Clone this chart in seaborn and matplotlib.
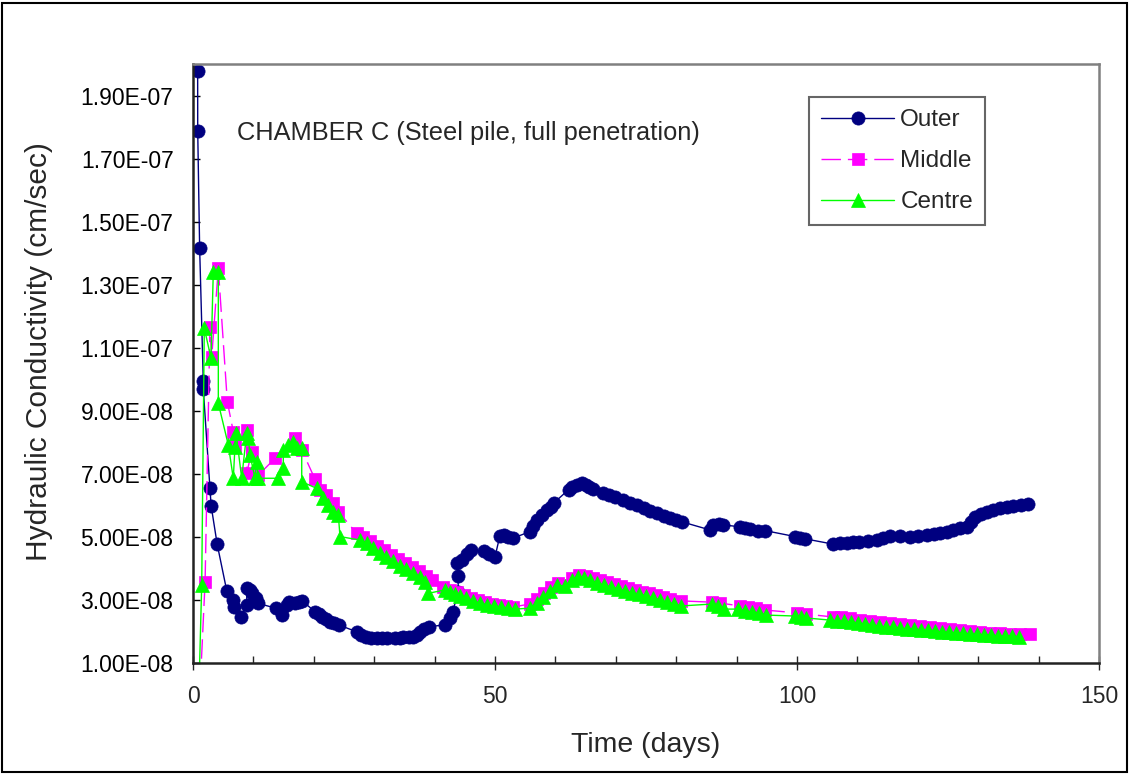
import matplotlib
matplotlib.use('Agg')
import matplotlib.pyplot as plt
import matplotlib.ticker as mticker
from matplotlib.patches import Rectangle
import pandas as pd
import seaborn as sns

# Values, conductivity in units of 1E-08 cm/sec
outer_days = [0.75, 0.78, 0.78, 1.1, 1.7, 1.7, 2.8, 3.0, 4.0, 5.6, 6.6, 6.8, 7.9,
              8.9, 8.9, 9.4, 9.7, 10.5, 10.8, 13.7, 14.7, 15.6, 15.9, 16.9, 17.5, 18.0,
              20.2, 20.8, 21.3, 22.0, 22.7, 23.4, 24.1, 27.1, 27.8, 28.7, 29.5, 30.4,
              31.3, 32.1, 33.4, 34.2, 34.8, 35.7, 36.5, 37.1, 37.6, 38.3, 39.0, 41.7,
              42.6, 43.0, 43.9, 43.9, 43.7, 44.5, 45.3, 46.1, 48.1, 49.0, 50.0, 50.8,
              51.5, 52.2, 53.0, 55.8, 56.3, 56.9, 57.8, 58.6, 59.2, 59.7, 62.2, 62.7,
              63.5, 64.4, 65.0, 65.6, 66.3, 67.9, 68.8, 69.9, 71.2, 72.4, 73.5, 74.6,
              75.7, 76.8, 77.9, 79.0, 80.0, 80.9, 85.6, 86.1, 87.0, 87.8, 90.6, 91.4,
              92.2, 93.5, 94.7, 99.7, 100.5, 101.3, 106.0, 107.1, 108.2, 109.2, 110.2,
              111.7, 113.2, 114.3, 115.4, 117.0, 118.7, 120.1, 121.5, 122.6, 123.7,
              124.8, 125.9, 127.0, 128.1, 128.8, 129.5, 130.5, 131.4, 132.5, 133.6,
              134.7, 135.8, 137.0, 138.2]
outer_k = [23.0, 19.79, 17.88, 14.15, 9.95, 9.69, 6.56, 5.99, 4.77, 3.28, 3.00, 2.79, 2.47,
           2.84, 3.37, 3.30, 3.21, 3.05, 2.89, 2.74, 2.52, 2.85, 2.94, 2.89, 2.95, 2.98,
           2.63, 2.55, 2.47, 2.39, 2.31, 2.26, 2.21, 1.99, 1.90, 1.83, 1.80, 1.78,
           1.78, 1.78, 1.80, 1.80, 1.83, 1.82, 1.81, 1.90, 1.99, 2.08, 2.15, 2.21,
           2.42, 2.63, 3.26, 3.76, 4.18, 4.28, 4.45, 4.58, 4.55, 4.45, 4.37, 5.03,
           5.05, 5.01, 4.96, 5.17, 5.35, 5.54, 5.70, 5.85, 5.95, 6.07, 6.50, 6.59,
           6.66, 6.70, 6.65, 6.58, 6.51, 6.38, 6.33, 6.26, 6.17, 6.08, 6.00, 5.91,
           5.83, 5.75, 5.67, 5.59, 5.53, 5.48, 5.22, 5.38, 5.40, 5.38, 5.32, 5.27,
           5.24, 5.20, 5.20, 5.01, 4.97, 4.94, 4.77, 4.80, 4.82, 4.83, 4.85,
           4.87, 4.90, 4.96, 5.03, 5.02, 5.01, 5.03, 5.06, 5.08, 5.11,
           5.17, 5.22, 5.27, 5.32, 5.48, 5.64, 5.72, 5.80, 5.85, 5.91,
           5.95, 5.98, 6.01, 6.03]

middle_days = [1.2, 2.0, 2.81, 3.1, 4.19, 5.68, 6.67, 6.95, 8.89, 8.89, 9.72, 10.81,
               13.58, 16.89, 18.0, 20.2, 21.0, 22.1, 23.2, 24.06, 27.1, 28.1, 29.3,
               30.5, 31.6, 32.8, 33.9, 35.1, 36.3, 37.4, 38.6, 39.6, 41.4, 42.5, 43.7,
               44.9, 46.0, 47.2, 48.3, 49.5, 50.7, 51.8, 53.0, 55.8, 57.0, 58.1, 59.3,
               60.4, 62.75, 63.9, 65.1, 66.2, 67.4, 68.5, 69.7, 70.9, 72.0, 73.2, 74.3,
               75.5, 76.7, 77.8, 79.0, 80.8, 85.9, 87.3, 90.6, 91.9, 93.2, 94.7, 100.0,
               101.5, 106.0, 107.3, 108.8, 110.4, 112.1, 113.7, 115.4, 117.1, 118.7,
               120.4, 122.0, 123.7, 125.3, 127.0, 128.6, 130.3, 132.0, 133.6, 135.3,
               136.9, 138.6]
middle_k = [0.3, 3.57, 11.67, 10.72, 13.52, 9.29, 8.34, 7.88, 8.39, 7.02, 7.70, 6.96,
            7.49, 8.13, 7.76, 6.83, 6.49, 6.33, 6.07, 5.80, 5.11, 5.00, 4.87,
            4.71, 4.58, 4.43, 4.30, 4.17, 4.05, 3.92, 3.76, 3.63, 3.41, 3.32, 3.25,
            3.16, 3.06, 3.00, 2.93, 2.87, 2.84, 2.81, 2.78, 2.87, 3.03, 3.22, 3.41,
            3.54, 3.70, 3.79, 3.76, 3.70, 3.63, 3.57, 3.51, 3.44, 3.38, 3.32, 3.25,
            3.22, 3.16, 3.09, 3.03, 2.97, 2.93, 2.90, 2.81, 2.78, 2.74, 2.68, 2.59,
            2.55, 2.46, 2.46, 2.43, 2.36, 2.33, 2.30, 2.27, 2.24, 2.21,
            2.17, 2.14, 2.11, 2.08, 2.05, 2.02, 1.98, 1.95, 1.95, 1.92,
            1.92, 1.92]

centre_days = [1.0, 1.44, 1.87, 2.98, 3.36, 4.19, 4.19, 5.84, 6.67, 6.95, 7.12, 8.06,
               8.89, 9.16, 9.44, 10.26, 10.55, 10.81, 14.12, 14.95, 14.95, 15.78, 16.6,
               17.17, 18.0, 18.0, 20.48, 21.57, 22.4, 23.23, 24.06, 24.34, 27.65, 28.76,
               29.8, 30.96, 31.95, 33.1, 34.27, 35.26, 36.42, 37.58, 38.4, 38.96, 41.72,
               42.5, 43.4, 44.2, 45.2, 46.36, 47.5, 48.7, 49.8, 51.0, 52.2, 53.3, 55.8,
               56.95, 57.95, 59.1, 60.3, 61.6, 62.75, 63.7, 64.7, 65.7, 66.9, 68.0, 69.2,
               70.4, 71.5, 72.7, 73.8, 75.0, 76.2, 77.3, 78.5, 79.6, 80.8, 85.9, 86.9,
               87.9, 90.2, 91.4, 92.5, 93.7, 94.9, 99.7, 100.7, 101.5, 105.5, 106.6,
               107.8, 108.9, 110.1, 111.3, 112.4, 113.6, 114.7, 115.9, 117.1, 118.2,
               119.4, 120.5, 121.7, 122.8, 124.0, 125.2, 126.3, 127.5, 128.6, 129.8,
               131.0, 132.1, 133.3, 134.4, 135.6, 136.8]
centre_k = [0.3, 3.47, 11.62, 10.67, 13.41, 13.41, 9.24, 7.92, 6.86, 7.86, 8.31, 6.86,
            8.29, 8.13, 7.60, 6.86, 7.39, 6.86, 6.86, 7.18, 7.76, 7.92, 8.02,
            7.81, 7.81, 6.75, 6.54, 6.22, 6.01, 5.80, 5.69, 5.01, 4.90, 4.80,
            4.65, 4.49, 4.36, 4.24, 4.08, 3.98, 3.85, 3.73, 3.57, 3.21, 3.32,
            3.25, 3.19, 3.13, 3.06, 2.97, 2.90, 2.84, 2.81, 2.78, 2.74, 2.71, 2.74,
            2.90, 3.09, 3.28, 3.47, 3.44, 3.63, 3.73, 3.70, 3.63, 3.54, 3.47, 3.41,
            3.35, 3.28, 3.22, 3.19, 3.13, 3.06, 3.00, 2.93, 2.87, 2.81, 2.87, 2.81,
            2.71, 2.71, 2.65, 2.62, 2.59, 2.52, 2.49, 2.46, 2.43, 2.36, 2.33,
            2.33, 2.30, 2.27, 2.24, 2.21, 2.17, 2.14, 2.14, 2.11, 2.08,
            2.08, 2.05, 2.05, 2.02, 1.98, 1.98, 1.95, 1.95, 1.92, 1.92,
            1.89, 1.89, 1.86, 1.86, 1.86, 1.83]

y_ticks = [1e-8, 3e-8, 5e-8, 7e-8, 9e-8, 1.1e-7, 1.3e-7, 1.5e-7, 1.7e-7, 1.9e-7]
x_ticks = [0, 50, 100, 150]

sns.set_style('white')
plt.rcParams['font.family'] = ['Liberation Sans', 'DejaVu Sans']

fig = plt.figure(figsize=(11.3, 7.74), dpi=100)
ax = fig.add_axes([0.1708, 0.1434, 0.8018, 0.7739])

series = [
    ('Outer', outer_days, outer_k, '#000080', 'o', 9.5, '-'),
    ('Middle', middle_days, middle_k, '#FF00FF', 's', 8, (0, (14, 5))),
    ('Centre', centre_days, centre_k, '#00FF00', '^', 10.5, '-'),
]
for name, days, k, color, mk, ms, ls in series:
    df = pd.DataFrame({'day': days, 'k': [v * 1e-8 for v in k]})
    sns.lineplot(data=df, x='day', y='k', ax=ax, sort=False, estimator=None,
                 color=color, linewidth=1, linestyle=ls, marker=mk, markersize=ms,
                 markeredgecolor=color, markeredgewidth=0.5, label=name)

ax.set_xlim(0, 150)
ax.set_ylim(1e-8, 2e-7)
ax.set_xticks(x_ticks)
ax.xaxis.set_minor_locator(mticker.MultipleLocator(10))
ax.set_yticks(y_ticks)
ax.yaxis.set_major_formatter(mticker.FuncFormatter(lambda v, p: format(v, '.2E')))

ax.tick_params(axis='y', which='major', direction='in', length=5, width=1,
               labelsize=16.5, pad=14, left=True, colors='black')
ax.tick_params(axis='x', which='major', direction='inout', length=10, width=1,
               labelsize=16.5, pad=11, bottom=True)
ax.tick_params(axis='x', which='minor', direction='in', length=5, width=1, bottom=True)

for side in ['left', 'bottom']:
    ax.spines[side].set_color('#222222')
    ax.spines[side].set_linewidth(1.8)
for side in ['top', 'right']:
    ax.spines[side].set_color('#808080')
    ax.spines[side].set_linewidth(1.8)

ax.set_xlabel('Time (days)', fontsize=20.5)
ax.set_ylabel('Hydraulic Conductivity (cm/sec)', fontsize=21.5)
ax.xaxis.set_label_coords(0.5, -0.116)
ax.yaxis.set_label_coords(-0.155, 0.52)

ax.text(0.0486, 0.885, 'CHAMBER C (Steel pile, full penetration)', transform=ax.transAxes,
        fontsize=18.3, va='center', ha='left')

leg = ax.legend(loc='upper left', bbox_to_anchor=(0.68, 0.945), borderaxespad=0,
                fontsize=17.5, frameon=True, fancybox=False, edgecolor='#404040',
                handlelength=3.0, handletextpad=0.25, labelspacing=0.78, borderpad=0.5)
leg.get_frame().set_linewidth(1.5)

fig.patches.append(Rectangle((0.002, 0.002), 0.995, 0.994, transform=fig.transFigure,
                             fill=False, edgecolor='black', linewidth=1.5))

fig.savefig('out.png', dpi=100)
